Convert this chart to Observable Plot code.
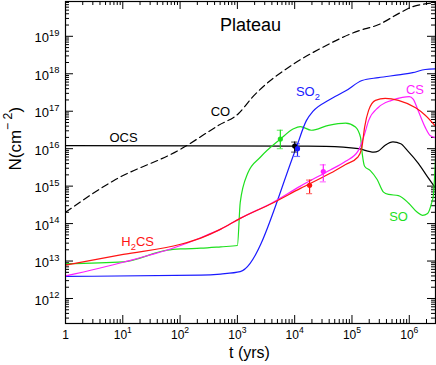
<!DOCTYPE html>
<html><head><meta charset="utf-8">
<script src="https://cdn.jsdelivr.net/npm/d3@7"></script>
<script src="https://cdn.jsdelivr.net/npm/@observablehq/plot@0.6"></script>
<style>body{margin:0;background:#fff}</style>
</head><body><div id="chart"></div>
<script>
// ---------- axes ----------
const xMajor = [1, 10, 100, 1e3, 1e4, 1e5, 1e6];
const xTickLabels = ["1", "10^{1}", "10^{2}", "10^{3}", "10^{4}", "10^{5}", "10^{6}"];
const yMajor = [1e12, 1e13, 1e14, 1e15, 1e16, 1e17, 1e18, 1e19];
const yTickLabels = ["10^{12}", "10^{13}", "10^{14}", "10^{15}", "10^{16}", "10^{17}", "10^{18}", "10^{19}"];
const minorMultipliers = [2, 3, 4, 5, 6, 7, 8, 9];
const xDomain = [1, 2.87e6];
const yDomain = [2.15e11, 8.5e19];

// ---------- model curves ----------
const coT = [1, 6.9, 100, 470, 1050, 1800, 1.0e4, 2.8e4, 1.3e5, 2.8e5, 7.0e5, 1.05e6, 2.9e6];
const coN = [2.0e14, 1.4e15, 9.5e15, 4.2e16, 8.7e16, 2.3e17, 1.9e18, 4.7e18, 1.4e19, 2.0e19, 4.3e19, 5.9e19, 7.9e19];

const ocsT = [1, 8.5e3, 3.5e4, 1.3e5, 2.4e5, 2.9e5, 3.8e5, 5.2e5, 7.1e5, 9.3e5, 1.45e6, 2.1e6, 2.9e6];
const ocsN = [1.2e16, 1.17e16, 1.15e16, 1.0e16, 8.1e15, 8.7e15, 1.23e16, 1.51e16, 1.35e16, 8.9e15, 4.0e15, 1.74e15, 8.7e14];

const so2T = [1, 230, 510, 1120, 1.05e4, 1.6e4, 2.1e4, 3.9e4, 7.8e4, 1.5e5, 2.9e5, 7.1e5, 1.15e6, 1.9e6, 2.9e6];
const so2N = [3.9e12, 4.2e12, 4.5e12, 5.2e12, 1.0e16, 5.6e16, 1.0e17, 1.95e17, 3.5e17, 6.6e17, 7.9e17, 9.5e17, 1.07e18, 1.3e18, 1.35e18];

const h2csT = [1, 10.2, 102, 229, 513, 1120, 4070, 1.26e4, 4.17e4, 7.76e4, 1.26e5, 1.48e5, 1.66e5, 1.95e5, 2.57e5, 3.8e5, 6.46e5, 1.29e6, 1.9e6, 2.9e6];
const h2csN = [7.8e12, 1.5e13, 2.8e13, 4.1e13, 7.1e13, 1.38e14, 3.5e14, 8.7e14, 2.2e15, 3.8e15, 5.9e15, 1.02e16, 3.7e16, 1.05e17, 1.95e17, 2.2e17, 1.95e17, 1.23e17, 7.8e16, 3.9e16];

const csT = [1, 10.2, 102, 229, 513, 1120, 4070, 1.26e4, 4.17e4, 7.76e4, 1.29e5, 1.66e5, 1.95e5, 2.88e5, 4.9e5, 7.6e5, 1.0e6, 1.17e6, 1.45e6, 1.9e6, 2.34e6, 2.9e6];
const csN = [4.0e12, 9.3e12, 2.6e13, 4.2e13, 7.1e13, 1.38e14, 3.6e14, 1.0e15, 2.7e15, 4.6e15, 8.9e15, 2.45e16, 5.6e16, 1.26e17, 1.95e17, 2.35e17, 2.45e17, 2.1e17, 9.8e16, 3.7e16, 2.2e16, 1.95e16];

const soT = [1, 10.2, 60, 102, 229, 513, 1000, 1122, 1514, 2512, 5623, 9550, 1.26e4, 1.95e4, 3.9e4, 7.76e4, 1.15e5, 1.41e5, 1.51e5, 1.66e5, 2.09e5, 2.75e5, 3.55e5, 4.37e5, 6.46e5, 9.77e5, 1.38e6, 1.7e6, 2.09e6, 2.45e6, 2.63e6, 2.88e6];
const soN = [8.5e12, 9.5e12, 1.95e13, 2.1e13, 2.2e13, 2.4e13, 2.6e13, 3.7e14, 2.2e15, 5.9e15, 1.8e16, 3.4e16, 3.9e16, 3.1e16, 4.2e16, 4.8e16, 3.8e16, 2.0e16, 7.4e15, 3.4e15, 2.6e15, 1.5e15, 6.9e14, 6.0e14, 5.6e14, 3.5e14, 2.0e14, 1.66e14, 1.86e14, 3.5e14, 5.6e14, 5.9e15];

// ---------- observations ----------
const obsSpecies = ["SO", "OCS", "SO2", "H2CS", "CS"];
const obsT = [5620, 1.0e4, 1.12e4, 1.82e4, 3.16e4];
const obsN = [1.8e16, 1.17e16, 1.0e16, 1.05e15, 2.45e15];
const obsLo = [1.0e16, 8.1e15, 6.2e15, 6.3e14, 1.3e15];
const obsHi = [3.1e16, 1.5e16, 1.35e16, 1.45e15, 3.7e15];

// ---------- labels ----------
const labelText = ["OCS", "CO", "SO_{2}", "CS", "H_{2}CS", "SO"];
const labelSpecies = ["OCS", "CO", "SO2", "CS", "H2CS", "SO"];
const labelT = [10.3, 507, 1.7e4, 1.26e6, 18.2, 6.5e5];
const labelN = [2.0e16, 9.8e16, 3.2e17, 3.8e17, 3.2e13, 1.5e14];

const colors = {CO: "#000000", OCS: "#000000", SO2: "#1a1aff", H2CS: "#ff1414", CS: "#ff1eff", SO: "#1ee01e"};

const seriesList = [
  {name: "CO", t: coT, n: coN, dash: "7,4"},
  {name: "OCS", t: ocsT, n: ocsN},
  {name: "SO", t: soT, n: soN},
  {name: "SO2", t: so2T, n: so2N},
  {name: "CS", t: csT, n: csN},
  {name: "H2CS", t: h2csT, n: h2csN}
];

const obs = obsSpecies.map((s, i) => ({s, t: obsT[i], n: obsN[i], lo: obsLo[i], hi: obsHi[i], c: colors[s]}));
const labels = labelText.map((text, i) => ({text, t: labelT[i], n: labelN[i], c: colors[labelSpecies[i]]}));

const xMinor = xMajor.flatMap(v => minorMultipliers.map(m => v * m)).filter(v => v < xDomain[1]);
const yMinor = [1e11, ...yMajor].flatMap(v => minorMultipliers.map(m => v * m)).filter(v => v > yDomain[0] && v < yDomain[1]);

const W = 436, H = 365, mL = 65, mR = 1, mT = 1, mB = 42;
const fw = W - mL - mR, fh = H - mT - mB;
const maj = 8, mnr = 4;
const FONT = "Liberation Sans, Arial, sans-serif";

const marks = [
  // ticks (inward, all four sides)
  Plot.tickY(yMajor, {y: d => d, insetRight: fw - maj, stroke: "black"}),
  Plot.tickY(yMinor, {y: d => d, insetRight: fw - mnr, stroke: "black"}),
  Plot.tickY(yMajor, {y: d => d, insetLeft: fw - maj, stroke: "black"}),
  Plot.tickY(yMinor, {y: d => d, insetLeft: fw - mnr, stroke: "black"}),
  Plot.tickX(xMajor, {x: d => d, insetTop: fh - maj, stroke: "black"}),
  Plot.tickX(xMinor, {x: d => d, insetTop: fh - mnr, stroke: "black"}),
  Plot.tickX(xMajor, {x: d => d, insetBottom: fh - maj, stroke: "black"}),
  Plot.tickX(xMinor, {x: d => d, insetBottom: fh - mnr, stroke: "black"}),
  // model lines
  ...seriesList.map(s => Plot.line(s.t.map((t, i) => ({t, n: s.n[i]})), {
    x: "t", y: "n", stroke: colors[s.name], strokeWidth: 1.2,
    strokeDasharray: s.dash, curve: "monotone-x", clip: true
  })),
  // observations
  Plot.ruleX(obs, {x: "t", y1: "lo", y2: "hi", stroke: "c", strokeWidth: 1.2}),
  Plot.ruleY(obs, {y: "hi", x1: d => d.t / 1.13, x2: d => d.t * 1.13, stroke: "c", strokeWidth: 1.2, strokeOpacity: 0.6}),
  Plot.ruleY(obs, {y: "lo", x1: d => d.t / 1.13, x2: d => d.t * 1.13, stroke: "c", strokeWidth: 1.2, strokeOpacity: 0.6}),
  Plot.dot(obs, {x: "t", y: "n", fill: "c", r: 2.6}),
  // curve labels
  Plot.text(labels, {x: "t", y: "n", text: "text", fill: "c", fontSize: 13, fontFamily: FONT}),
  Plot.text(["Plateau"], {x: () => 1700, y: () => 2.0e19, text: d => d, fontSize: 18, fontFamily: FONT, fill: "black"}),
  // tick labels
  Plot.text(xMajor, {x: d => d, text: (d, i) => xTickLabels[i], frameAnchor: "bottom", dy: 15, fontSize: 12, fontFamily: FONT, fill: "black"}),
  Plot.text(yMajor, {y: d => d, text: (d, i) => yTickLabels[i], frameAnchor: "left", textAnchor: "end", dx: -6, dy: 2, fontSize: 13, fontFamily: FONT, fill: "black"}),
  // axis titles
  Plot.text(["t (yrs)"], {text: d => d, frameAnchor: "bottom", dy: 34, dx: -1, fontSize: 16, fontFamily: FONT, fill: "black"}),
  Plot.text(["N(cm^{\u2212 2})"], {text: d => d, frameAnchor: "left", dx: -50, dy: 8, rotate: -90, fontSize: 17, fontFamily: FONT, fill: "black"}),
  Plot.frame({stroke: "black", strokeWidth: 1.2})
];

const chart = Plot.plot({
  width: W, height: H,
  marginLeft: mL, marginRight: mR, marginTop: mT, marginBottom: mB,
  x: {type: "log", domain: xDomain, axis: null},
  y: {type: "log", domain: yDomain, axis: null},
  color: {type: "identity"},
  style: {background: "white", fontFamily: FONT, color: "black"},
  marks
});
document.getElementById("chart").appendChild(chart);

// rich text: ^{..} superscript, _{..} subscript
const NS = "http://www.w3.org/2000/svg";
chart.querySelectorAll("text").forEach(t => {
  const s = t.textContent;
  if (!/[\^_]\{/.test(s)) return;
  const fs = parseFloat(getComputedStyle(t).fontSize) || 12;
  t.textContent = "";
  const re = /([\^_])\{([^}]*)\}|([^\^_]+)/g;
  let m, shift = 0;
  while ((m = re.exec(s))) {
    const ts = document.createElementNS(NS, "tspan");
    let target;
    if (m[3] !== undefined) { target = 0; ts.textContent = m[3]; }
    else {
      target = m[1] === "^" ? -0.5 * fs : 0.3 * fs;
      ts.textContent = m[2];
      ts.setAttribute("font-size", (0.72 * fs).toFixed(1));
    }
    ts.setAttribute("dy", (target - shift).toFixed(1));
    shift = target;
    t.appendChild(ts);
  }
});
</script>
</body></html>
